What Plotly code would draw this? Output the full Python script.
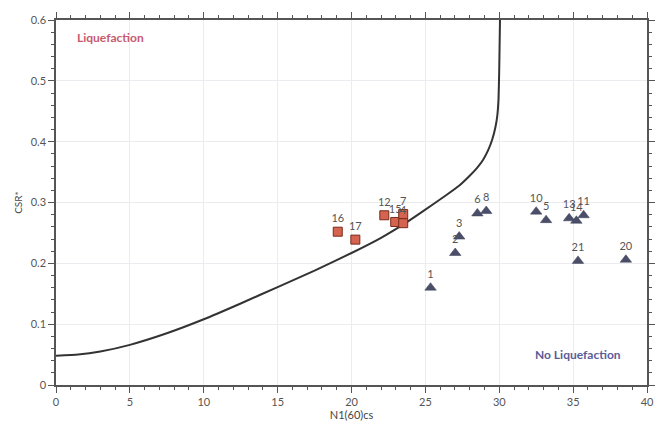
import plotly.graph_objects as go

# Boundary curve
curve_n = [0, 1.5, 3, 5, 7.5, 10, 12.5, 15, 17.5, 20, 22, 23.7, 24.8, 26.4, 27.3, 28, 28.5, 28.9,
           29.25, 29.53, 29.75, 29.86, 29.95, 30.0, 30.05]
curve_csr = [0.048, 0.050, 0.055, 0.066, 0.085, 0.108, 0.134, 0.161, 0.188, 0.217, 0.242, 0.267,
             0.285, 0.312, 0.328, 0.344, 0.357, 0.370, 0.386, 0.404, 0.425, 0.441, 0.47, 0.52, 0.6]

# Liquefied sites (squares)
liq_labels = ["16", "17", "12", "15", "7", "4"]
liq_n = [19.07, 20.26, 22.22, 22.96, 23.5, 23.5]
liq_csr = [0.252, 0.239, 0.279, 0.268, 0.281, 0.266]

# Non-liquefied sites (triangles)
non_labels = ["1", "2", "3", "6", "8", "10", "5", "13", "14", "11", "21", "20"]
non_n = [25.35, 27.02, 27.29, 28.52, 29.12, 32.5, 33.17, 34.73, 35.22, 35.71, 35.33, 38.57]
non_csr = [0.160, 0.217, 0.244, 0.282, 0.286, 0.285, 0.271, 0.274, 0.270, 0.279, 0.204, 0.206]

fig = go.Figure()
fig.add_trace(go.Scatter(x=curve_n, y=curve_csr, mode="lines",
                         line=dict(color="#333333", width=2, shape="spline", smoothing=0.4),
                         hoverinfo="skip", showlegend=False))
fig.add_trace(go.Scatter(x=liq_n, y=liq_csr, mode="markers+text", text=liq_labels,
                         textposition="top center",
                         textfont=dict(family="Lato", size=11, color="#555555"),
                         marker=dict(symbol="square", size=9, color="#d4634f",
                                     line=dict(color="#7a2a1c", width=1)),
                         showlegend=False))
fig.add_trace(go.Scatter(x=non_n, y=non_csr, mode="markers+text", text=non_labels,
                         textposition="top center",
                         textfont=dict(family="Lato", size=11, color="#555555"),
                         marker=dict(symbol="triangle-up", size=10, color="#4a4e68",
                                     line=dict(color="#3a3e58", width=0.5)),
                         showlegend=False))

fig.add_annotation(x=1.3, y=0.572, text="<b>Liquefaction</b>", showarrow=False,
                   xanchor="left", yanchor="middle",
                   font=dict(family="Lato", size=12, color="#c85a6e"))
fig.add_annotation(x=38.4, y=0.05, text="<b>No Liquefaction</b>", showarrow=False,
                   xanchor="right", yanchor="middle",
                   font=dict(family="Lato", size=12, color="#5a5c98"))

axis_common = dict(showline=True, linecolor="#555555", linewidth=1.5, mirror="ticks",
                   ticks="outside", ticklen=6, tickcolor="#555555", tickwidth=1,
                   showgrid=True, gridcolor="#ececf0", gridwidth=1, zeroline=False,
                   tickfont=dict(family="Lato", size=11, color="#555555"))

fig.update_xaxes(range=[0, 40], dtick=5, tick0=0,
                 minor=dict(dtick=1, ticks="outside", ticklen=3, tickcolor="#555555", showgrid=False),
                 title=dict(text="N1(60)cs", font=dict(family="Lato", size=11, color="#444444"), standoff=4),
                 **axis_common)
fig.update_yaxes(range=[0, 0.6], dtick=0.1, tick0=0,
                 minor=dict(dtick=0.02, ticks="outside", ticklen=3, tickcolor="#555555", showgrid=False),
                 title=dict(text="CSR*", font=dict(family="Lato", size=10, color="#444444"), standoff=6),
                 **axis_common)

fig.update_layout(width=667, height=432, margin=dict(l=56, r=14, t=19, b=43),
                  paper_bgcolor="white", plot_bgcolor="white")

fig.write_html("out.html")
